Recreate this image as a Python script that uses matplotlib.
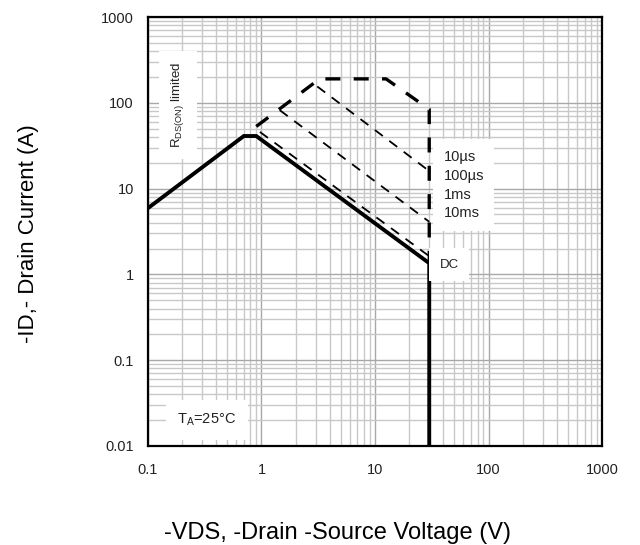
import matplotlib

matplotlib.use("Agg")
import matplotlib.pyplot as plt
from matplotlib.ticker import LogLocator, FixedLocator, FixedFormatter, NullFormatter

plt.rcParams["font.family"] = ["Liberation Sans", "DejaVu Sans"]

# safe operating area
dc_v = [0.1, 0.7, 0.9, 30, 30]
dc_i = [5.9, 41, 41, 1.35, 0.01]

us10_v = [0.9, 3.25, 12.5, 30, 30]
us10_i = [53, 190, 190, 84, 1.35]

us100_v = [3.1, 30]
us100_i = [155, 16]

ms1_v = [1.45, 30]
ms1_i = [82, 4.1]

ms10_v = [0.97, 30]
ms10_i = [45.7, 1.63]

pulse_labels = ["10µs", "100µs", "1ms", "10ms"]
x_ticks = [0.1, 1, 10, 100, 1000]
x_ticklabels = ["0.1", "1", "10", "100", "1000"]
y_ticks = [0.01, 0.1, 1, 10, 100, 1000]
y_ticklabels = ["0.01", "0.1", "1", "10", "100", "1000"]

fig = plt.figure(figsize=(6.4, 5.45), dpi=100)
ax = fig.add_axes([0.231, 0.1817, 0.710, 0.7871])
ax.set_xscale("log")
ax.set_yscale("log")
ax.set_xlim(0.1, 1000)
ax.set_ylim(0.01, 1000)

ax.xaxis.set_major_locator(FixedLocator(x_ticks))
ax.xaxis.set_major_formatter(FixedFormatter(x_ticklabels))
ax.yaxis.set_major_locator(FixedLocator(y_ticks))
ax.yaxis.set_major_formatter(FixedFormatter(y_ticklabels))
ax.xaxis.set_minor_locator(LogLocator(base=10, subs=range(2, 10), numticks=20))
ax.yaxis.set_minor_locator(LogLocator(base=10, subs=range(2, 10), numticks=20))
ax.xaxis.set_minor_formatter(NullFormatter())
ax.yaxis.set_minor_formatter(NullFormatter())
ax.grid(True, which="minor", color="#c8c8c8", linewidth=1.0)
ax.grid(True, which="major", color="#a8a8a8", linewidth=1.0)
ax.set_axisbelow(True)
ax.tick_params(which="both", length=0, labelsize=10.5, colors="#222222")
ax.tick_params(axis="x", pad=12)
ax.tick_params(axis="y", pad=10)
for s in ax.spines.values():
    s.set_linewidth(1.6)
    s.set_color("black")

ax.plot(us100_v, us100_i, color="black", lw=1.3, ls=(0, (5.5, 4.5)), zorder=3)
ax.plot(ms1_v, ms1_i, color="black", lw=1.3, ls=(0, (5.5, 4.5)), zorder=3)
ax.plot(ms10_v, ms10_i, color="black", lw=1.3, ls=(0, (5.5, 4.5)), zorder=3)
ax.plot(us10_v, us10_i, color="black", lw=2.4, ls=(0, (4.5, 4)), zorder=4)
ax.plot(dc_v, dc_i, color="black", lw=2.8, solid_joinstyle="miter", zorder=5)

ax.text(40, 11, "\n".join(pulse_labels), fontsize=10.5, va="center", ha="left",
        linespacing=1.45, color="#222222",
        bbox=dict(facecolor="white", edgecolor="none", boxstyle="square,pad=0.7"),
        zorder=6)
ax.text(37, 1.29, "DC", fontsize=9.5, va="center", ha="left", color="#222222",
        bbox=dict(facecolor="white", edgecolor="none", boxstyle="square,pad=0.8"),
        zorder=6)
ax.text(0.184, 94, r"R$_{\mathregular{DS(ON)}}$ limited", rotation=90, fontsize=9.5,
        va="center", ha="center", color="#222222",
        bbox=dict(facecolor="white", edgecolor="none", boxstyle="square,pad=0.8"),
        zorder=6)
ax.text(0.331, 0.0201, r"T$_\mathregular{A}$=25°C", fontsize=10.5, va="center",
        ha="center", color="#222222",
        bbox=dict(facecolor="white", edgecolor="none", boxstyle="square,pad=0.8"),
        zorder=6)

fig.text(0.044, 0.572, "-ID,- Drain Current (A)", rotation=90, fontsize=16,
         va="center", ha="center")
fig.text(0.527, 0.022, "-VDS, -Drain -Source Voltage (V)", fontsize=17,
         va="center", ha="center")

fig.savefig("out.png", dpi=100)
